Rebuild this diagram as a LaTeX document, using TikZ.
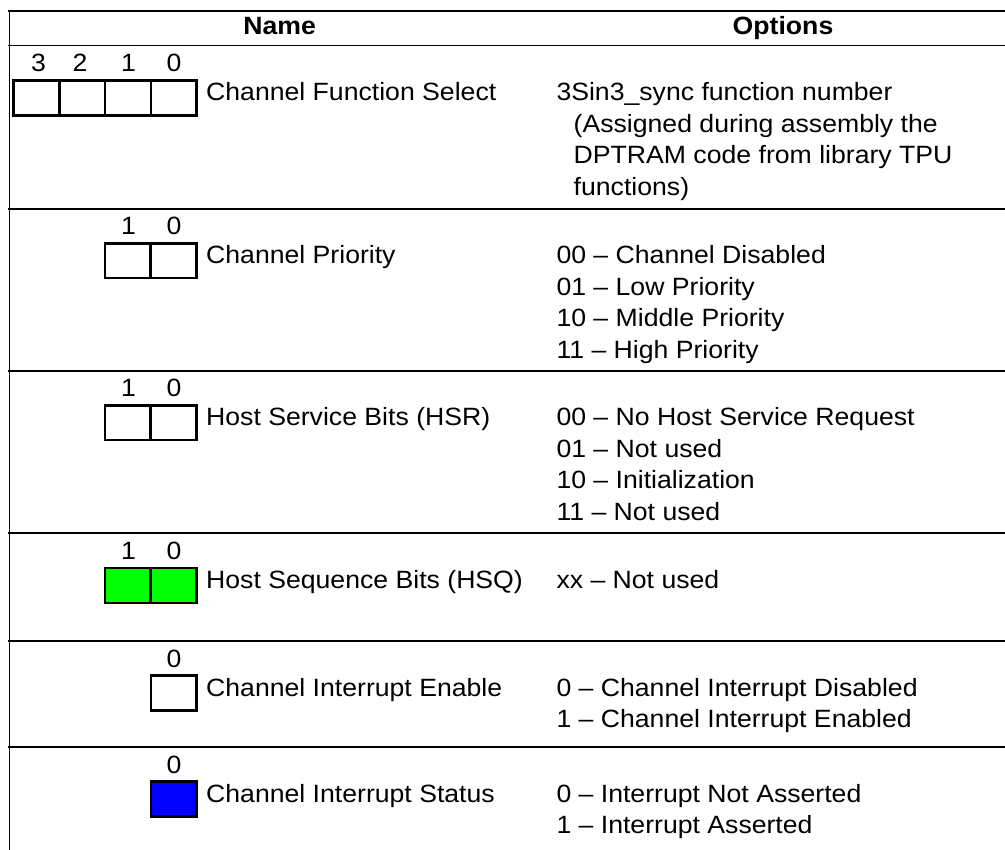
\documentclass[tikz,border=0pt]{standalone}
\usepackage{fontspec}
\setmainfont{Liberation Sans}[FakeStretch=1.065]
\newcommand\tabfont{\fontsize{25}{31.4}\selectfont}
\definecolor{bitgreen}{RGB}{0,255,0}
\definecolor{bitblue}{RGB}{0,0,255}
\begin{document}
\begin{tikzpicture}[x=1pt,y=-1pt,
  tline/.style={line width=1.3pt},
  cellbox/.style={draw, line width=2.4pt, minimum width=45.8pt, minimum height=34.8pt, inner sep=0pt, outer sep=0pt},
  bitnum/.style={font=\tabfont, anchor=base, inner sep=0pt},
  txt/.style={font=\tabfont, anchor=base west, inner sep=0pt},
  hdr/.style={font=\tabfont\bfseries, anchor=base, inner sep=0pt}]
\useasboundingbox (0,0) rectangle (1005,850);
% table rules
\draw[tline] (8,11) -- (1005,11);
\draw[tline] (8,45.5) -- (1005,45.5);
\foreach \s in {209,371,533,641,747} {\draw[tline] (8,\s) -- (1005,\s);}
\draw[tline] (9.7,10.35) -- (9.7,850);
% header
\node[hdr] (hname) at (279.7,34.5) {Name};
\node[hdr] (hopt) at (783,34.5) {Options};
% row 1
\node[bitnum] (r1d3) at (38.5,72) {3};
\node[bitnum] (r1d2) at (80,72) {2};
\node[bitnum] (r1d1) at (128.5,72) {1};
\node[bitnum] (r1d0) at (174,72) {0};
\node[cellbox] (r1c3) at (36.4,98) {};
\node[cellbox] (r1c2) at (82.1,98) {};
\node[cellbox] (r1c1) at (127.9,98) {};
\node[cellbox] (r1c0) at (173.6,98) {};
\node[txt] (r1name) at (206,101) {Channel Function Select};
\node[txt] (r1o1) at (556.3,101) {3Sin3\_sync function number};
\node[txt] (r1o2) at (573.5,132.4) {(Assigned during assembly the};
\node[txt] (r1o3) at (573.5,163.8) {DPTRAM code from library TPU};
\node[txt] (r1o4) at (573.5,195.2) {functions)};
% row 2
\node[bitnum] (r2d1) at (128.5,235) {1};
\node[bitnum] (r2d0) at (174,235) {0};
\node[cellbox] (r2c1) at (127.7,260.9) {};
\node[cellbox] (r2c0) at (173.5,260.9) {};
\node[txt] (r2name) at (206,264) {Channel Priority};
\node[txt] (r2o1) at (556.3,264) {00 – Channel Disabled};
\node[txt] (r2o2) at (556.3,295.4) {01 – Low Priority};
\node[txt] (r2o3) at (556.3,326.8) {10 – Middle Priority};
\node[txt] (r2o4) at (556.3,358.2) {11 – High Priority};
% row 3
\node[bitnum] (r3d1) at (128.5,397) {1};
\node[bitnum] (r3d0) at (174,397) {0};
\node[cellbox] (r3c1) at (127.7,422.9) {};
\node[cellbox] (r3c0) at (173.5,422.9) {};
\node[txt] (r3name) at (206,426) {Host Service Bits (HSR)};
\node[txt] (r3o1) at (556.3,426) {00 – No Host Service Request};
\node[txt] (r3o2) at (556.3,457.4) {01 – Not used};
\node[txt] (r3o3) at (556.3,488.8) {10 – Initialization};
\node[txt] (r3o4) at (556.3,520.2) {11 – Not used};
% row 4
\node[bitnum] (r4d1) at (128.5,559) {1};
\node[bitnum] (r4d0) at (174,559) {0};
\node[cellbox, fill=bitgreen] (r4c1) at (127.7,585.5) {};
\node[cellbox, fill=bitgreen] (r4c0) at (173.5,585.5) {};
\node[txt] (r4name) at (206,588.5) {Host Sequence Bits (HSQ)};
\node[txt] (r4o1) at (556.3,588.5) {xx – Not used};
% row 5
\node[bitnum] (r5d0) at (174,667) {0};
\node[cellbox] (r5c0) at (173.6,693) {};
\node[txt] (r5name) at (206,696) {Channel Interrupt Enable};
\node[txt] (r5o1) at (556.3,696) {0 – Channel Interrupt Disabled};
\node[txt] (r5o2) at (556.3,727.4) {1 – Channel Interrupt Enabled};
% row 6
\node[bitnum] (r6d0) at (174,773) {0};
\node[cellbox, fill=bitblue] (r6c0) at (173.6,799) {};
\node[txt] (r6name) at (206,802) {Channel Interrupt Status};
\node[txt] (r6o1) at (556.3,802) {0 – Interrupt Not Asserted};
\node[txt] (r6o2) at (556.3,833.4) {1 – Interrupt Asserted};
\end{tikzpicture}
\end{document}
